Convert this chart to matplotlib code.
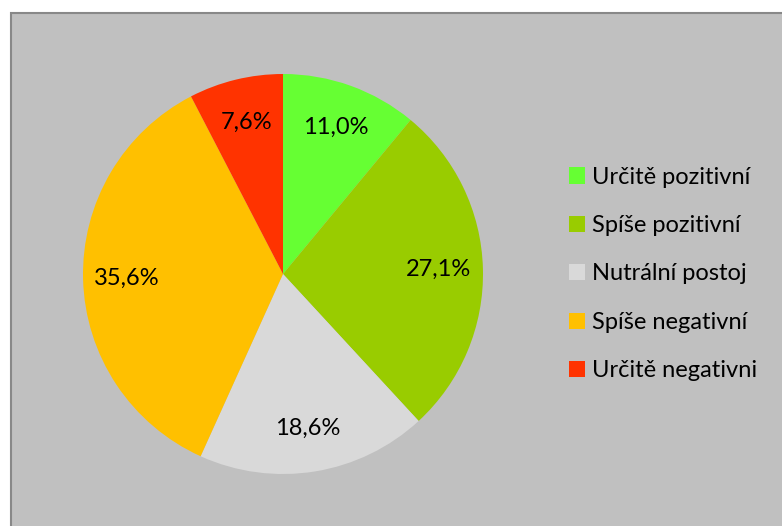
import matplotlib
matplotlib.use("Agg")
from matplotlib import pyplot as plt
from matplotlib.patches import Rectangle, Patch

labels = ['Určitě pozitivní', 'Spíše pozitivní', 'Nutrální postoj', 'Spíše negativní', 'Určitě negativni']
values = [11.0, 27.1, 18.6, 35.6, 7.6]
colors = ['#66FF33', '#99CC00', '#D9D9D9', '#FFC000', '#FF3300']

plt.rcParams['font.family'] = ['Lato', 'DejaVu Sans']

W, H = 782, 526
fig = plt.figure(figsize=(W / 100, H / 100), dpi=100)
fig.patch.set_facecolor('white')

# gray chart area with a border on top/left
fig.patches.append(Rectangle((10.5 / W, -0.01), 1.0, 1 - 12.5 / H + 0.01,
                             transform=fig.transFigure, facecolor='#C0C0C0',
                             edgecolor='#888888', linewidth=1.5, zorder=-5))

ax = fig.add_axes([83 / W, 52 / H, 400 / W, 400 / H])
ax.set_zorder(2)
ax.pie(values, colors=colors, startangle=90, counterclock=False,
       autopct=lambda p: f'{p:.1f}'.replace('.', ',') + '%',
       pctdistance=0.78, textprops={'fontsize': 17, 'color': 'black'},
       wedgeprops={'linewidth': 0})
ax.set_aspect('equal')
ax.set_xlim(-1, 1)
ax.set_ylim(-1, 1)
ax.axis('off')

handles = [Patch(facecolor=c, edgecolor='none') for c in colors]
fig.legend(handles, labels, loc='center left', bbox_to_anchor=(569 / W, 1 - 274 / H),
           frameon=False, fontsize=17, borderpad=0, borderaxespad=0,
           handlelength=0.68, handleheight=0.68,
           handletextpad=0.3, labelspacing=1.16)

fig.savefig('out.png', dpi=100)
